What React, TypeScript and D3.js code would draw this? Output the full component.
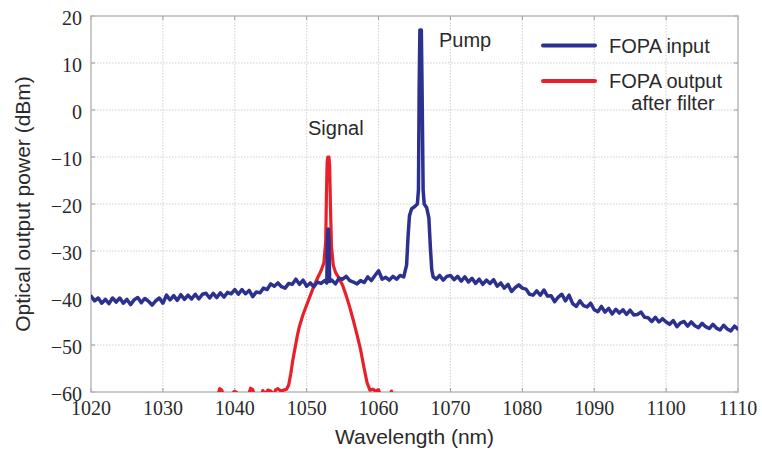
import React from "react";
import * as d3 from "d3";

// ---- Data ----
const xTicks = [1020, 1030, 1040, 1050, 1060, 1070, 1080, 1090, 1100, 1110];
const yTicks = [20, 10, 0, -10, -20, -30, -40, -50, -60];

// FOPA input [wavelength nm, power dBm]
const fopaInput: [number, number][] = [
  [1020, -39.6], [1020.5, -40.6], [1021, -40.0], [1021.5, -41.1], [1022, -40.3], [1022.5, -41.2],
  [1023, -40.0], [1023.5, -40.9], [1024, -40.0], [1024.5, -41.1], [1025, -40.3], [1025.5, -41.4],
  [1026, -40.4], [1026.5, -39.9], [1027, -41.0], [1027.5, -40.1], [1028, -40.7], [1028.5, -41.5],
  [1029, -40.6], [1029.5, -40.0], [1030, -41.1], [1030.5, -39.4], [1031, -40.4], [1031.5, -39.5],
  [1032, -40.5], [1032.5, -39.3], [1033, -40.3], [1033.5, -39.4], [1034, -40.2], [1034.5, -39.2],
  [1035, -40.2], [1035.5, -39.2], [1036, -39.0], [1036.5, -40.0], [1037, -39.0], [1037.5, -39.9],
  [1038, -38.9], [1038.5, -39.8], [1039, -38.8], [1039.5, -39.1], [1040, -38.2], [1040.5, -39.2],
  [1041, -38.2], [1041.5, -39.1], [1042, -38.4], [1042.5, -39.7], [1043, -38.7], [1043.5, -38.9],
  [1044, -37.9], [1044.5, -38.2], [1045, -37.0], [1045.5, -37.5], [1046, -36.8], [1046.5, -37.6],
  [1047, -37.9], [1047.5, -36.9], [1048, -37.1], [1048.5, -36.0], [1049, -37.1], [1049.5, -36.2],
  [1050, -37.5], [1050.5, -36.8], [1051, -37.6], [1051.5, -36.6], [1052, -36.9], [1052.5, -36.3],
  [1052.8, -36.8], [1052.9, -27.5], [1053.0, -25.3], [1053.1, -27.5], [1053.2, -36.5], [1053.5, -36.2],
  [1054, -37.0], [1054.5, -35.8], [1055, -36.0], [1055.5, -35.4], [1056, -36.3], [1056.5, -36.6],
  [1057, -37.0], [1057.5, -36.3], [1058, -36.7], [1058.5, -35.5], [1059, -36.3], [1059.5, -35.2],
  [1060, -34.2], [1060.5, -36.0], [1061, -35.6], [1061.5, -36.2], [1062, -35.4], [1062.5, -36.0],
  [1063, -35.2], [1063.5, -35.5], [1063.9, -33.0], [1064.1, -27.0], [1064.3, -22.5], [1064.6, -21.0],
  [1065.0, -20.6], [1065.4, -20.0], [1065.55, -17.0], [1065.65, 5.0], [1065.75, 17.0], [1065.95, 17.0],
  [1066.05, 5.0], [1066.2, -17.0], [1066.35, -20.0], [1066.7, -20.8], [1067.0, -23.0], [1067.2, -29.0],
  [1067.4, -34.0], [1067.6, -35.5], [1068, -36.0], [1068.5, -35.2], [1069, -36.2], [1069.5, -35.4],
  [1070, -35.2], [1070.5, -36.1], [1071, -35.4], [1071.5, -36.4], [1072, -35.5], [1072.5, -36.6],
  [1073, -35.8], [1073.5, -36.9], [1074, -36.0], [1074.5, -37.1], [1075, -36.2], [1075.5, -36.9],
  [1076, -36.1], [1076.5, -37.5], [1077, -36.8], [1077.5, -37.9], [1078, -37.1], [1078.5, -38.6],
  [1079, -37.8], [1079.5, -37.2], [1080, -37.9], [1080.5, -38.1], [1081, -39.2], [1081.5, -39.4],
  [1082, -38.5], [1082.5, -39.4], [1083, -38.3], [1083.5, -39.6], [1084, -39.5], [1084.5, -40.8],
  [1085, -39.8], [1085.5, -39.2], [1086, -40.6], [1086.5, -39.4], [1087, -41.2], [1087.5, -41.8],
  [1088, -40.6], [1088.5, -41.6], [1089, -41.9], [1089.5, -41.1], [1090, -42.5], [1090.5, -42.9],
  [1091, -41.8], [1091.5, -43.0], [1092, -42.2], [1092.5, -43.4], [1093, -42.4], [1093.5, -43.2],
  [1094, -42.5], [1094.5, -43.5], [1095, -42.6], [1095.5, -43.6], [1096, -43.5], [1096.5, -43.0],
  [1097, -44.1], [1097.5, -44.2], [1098, -45.0], [1098.5, -44.1], [1099, -45.1], [1099.5, -44.4],
  [1100, -45.1], [1100.5, -45.6], [1101, -44.8], [1101.5, -46.1], [1102, -45.3], [1102.5, -45.0],
  [1103, -46.0], [1103.5, -45.1], [1104, -45.9], [1104.5, -46.3], [1105, -45.4], [1105.5, -46.1],
  [1106, -46.5], [1106.5, -45.6], [1107, -46.4], [1107.5, -46.8], [1108, -45.8], [1108.5, -46.6],
  [1109, -47.0], [1109.5, -46.0], [1110, -46.6],
];

// FOPA output after filter [wavelength nm, power dBm]
const fopaOutput: [number, number][] = [
  [1037.0, -61.5], [1037.6, -61.0], [1037.9, -59.3], [1038.2, -59.6], [1038.5, -61.5],
  [1039.5, -61.0], [1039.9, -59.9], [1040.2, -60.0], [1040.5, -61.5],
  [1041.8, -61.2], [1042.2, -59.2], [1042.5, -59.5], [1042.8, -61.5],
  [1043.6, -61.0], [1043.9, -59.7], [1044.2, -60.4], [1044.6, -59.6], [1045.0, -59.8],
  [1045.4, -60.6], [1045.7, -59.5], [1046.0, -59.3], [1046.4, -59.8], [1046.8, -59.6],
  [1047.2, -59.4], [1047.5, -58.5], [1047.8, -56.0], [1048.1, -53.0], [1048.4, -50.5],
  [1048.7, -48.0], [1049.0, -46.0], [1049.5, -43.5], [1050.0, -41.5], [1050.5, -39.5],
  [1051.0, -37.5], [1051.5, -35.8], [1052.0, -34.2], [1052.4, -32.5], [1052.65, -28.0],
  [1052.75, -18.0], [1052.85, -11.0], [1052.95, -10.0], [1053.1, -10.0], [1053.2, -12.0],
  [1053.3, -20.0], [1053.45, -29.0], [1053.7, -33.0], [1054.0, -34.5], [1054.5, -35.8],
  [1055.0, -37.3], [1055.5, -39.5], [1056.0, -42.0], [1056.5, -44.8], [1057.0, -47.8],
  [1057.5, -51.0], [1058.0, -55.0], [1058.4, -58.0], [1058.8, -59.6], [1059.2, -59.4],
  [1059.6, -59.8], [1060.0, -59.5], [1060.3, -61.0], [1061.5, -61.0], [1061.8, -59.8],
  [1062.0, -61.0],
];

const legendItems = [
  { label: ["FOPA input"], color: "#2c3190" },
  { label: ["FOPA output", "after filter"], color: "#e8202a" },
];

const W = 762;
const H = 451;
const M = { left: 91, right: 24, top: 16, bottom: 59 };

export default function App() {
  const x = d3.scaleLinear().domain([1020, 1110]).range([M.left, W - M.right]);
  const y = d3.scaleLinear().domain([-60, 20]).range([H - M.bottom, M.top]);
  const line = d3
    .line<[number, number]>()
    .x((d) => x(d[0]))
    .y((d) => y(d[1]));

  const x0 = M.left, x1 = W - M.right, y0 = M.top, y1 = H - M.bottom;
  const sans = "'Liberation Sans', Arial, sans-serif";
  const serif = "'Liberation Serif', 'Times New Roman', serif";
  const textCol = "#2a2a2a";
  const frameCol = "#b4b4b4";

  return (
    <svg
      width={W}
      height={H}
      style={{ position: "absolute", left: 0, top: 0, background: "#fff" }}
    >
      <defs>
        <clipPath id="plotclip">
          <rect x={x0} y={y0 - 2} width={x1 - x0} height={y1 - y0 + 2} />
        </clipPath>
      </defs>
      <rect x={0} y={0} width={W} height={H} fill="#fff" />
      {/* grid */}
      {xTicks.slice(1, -1).map((t) => (
        <line key={"gx" + t} x1={x(t)} x2={x(t)} y1={y0} y2={y1} stroke="#cfcfcf" strokeWidth={1} strokeDasharray="1.5,1.5" />
      ))}
      {yTicks.slice(1, -1).map((t) => (
        <line key={"gy" + t} x1={x0} x2={x1} y1={y(t)} y2={y(t)} stroke="#cfcfcf" strokeWidth={1} strokeDasharray="1.5,1.5" />
      ))}
      {/* ticks (inward) */}
      {xTicks.map((t) => (
        <g key={"tx" + t}>
          <line x1={x(t)} x2={x(t)} y1={y1} y2={y1 - 4} stroke="#999" />
          <line x1={x(t)} x2={x(t)} y1={y0} y2={y0 + 4} stroke="#999" />
        </g>
      ))}
      {yTicks.map((t) => (
        <g key={"ty" + t}>
          <line x1={x0} x2={x0 + 4} y1={y(t)} y2={y(t)} stroke="#999" />
          <line x1={x1} x2={x1 - 4} y1={y(t)} y2={y(t)} stroke="#999" />
        </g>
      ))}
      {/* frame */}
      <rect x={x0} y={y0} width={x1 - x0} height={y1 - y0} fill="none" stroke={frameCol} strokeWidth={1.4} />

      {/* data */}
      <g clipPath="url(#plotclip)">
        <path d={line(fopaOutput) || ""} fill="none" stroke="#e8202a" strokeWidth={3.2} strokeLinejoin="round" strokeLinecap="round" />
        <path d={line(fopaInput) || ""} fill="none" stroke="#2c3190" strokeWidth={3.5} strokeLinejoin="round" strokeLinecap="round" />
      </g>

      {/* tick labels */}
      {xTicks.map((t) => (
        <text key={"lx" + t} x={x(t)} y={y1 + 23} textAnchor="middle" fontFamily={serif} fontSize={20} fill={textCol}>
          {t}
        </text>
      ))}
      {yTicks.map((t) => (
        <text key={"ly" + t} x={x0 - 9} y={y(t) + 8.5} textAnchor="end" fontFamily={serif} fontSize={20} fill={textCol}>
          {t < 0 ? "\u2212" + Math.abs(t) : String(t)}
        </text>
      ))}

      {/* axis titles */}
      <text x={(x0 + x1) / 2} y={444} textAnchor="middle" fontFamily={sans} fontSize={21} fill={textCol}>
        Wavelength (nm)
      </text>
      <text
        transform={`translate(30, ${(y0 + y1) / 2}) rotate(-90)`}
        textAnchor="middle"
        fontFamily={sans}
        fontSize={21}
        fill={textCol}
      >
        Optical output power (dBm)
      </text>

      {/* annotations */}
      <text x={308} y={135} fontFamily={sans} fontSize={20} fill={textCol}>Signal</text>
      <text x={439} y={47} fontFamily={sans} fontSize={20} fill={textCol}>Pump</text>

      {/* legend */}
      {legendItems.map((it, i) => {
        const ly = 45.5 + i * 35.5;
        return (
          <g key={"lg" + i}>
            <line x1={543} x2={595} y1={ly} y2={ly} stroke={it.color} strokeWidth={4} strokeLinecap="round" />
            {it.label.map((s, j) => (
              <text
                key={j}
                x={j === 0 ? 609 : 673}
                y={ly + 7 + j * 22}
                textAnchor={j === 0 ? "start" : "middle"}
                fontFamily={sans}
                fontSize={20}
                fill={textCol}
              >
                {s}
              </text>
            ))}
          </g>
        );
      })}
    </svg>
  );
}
